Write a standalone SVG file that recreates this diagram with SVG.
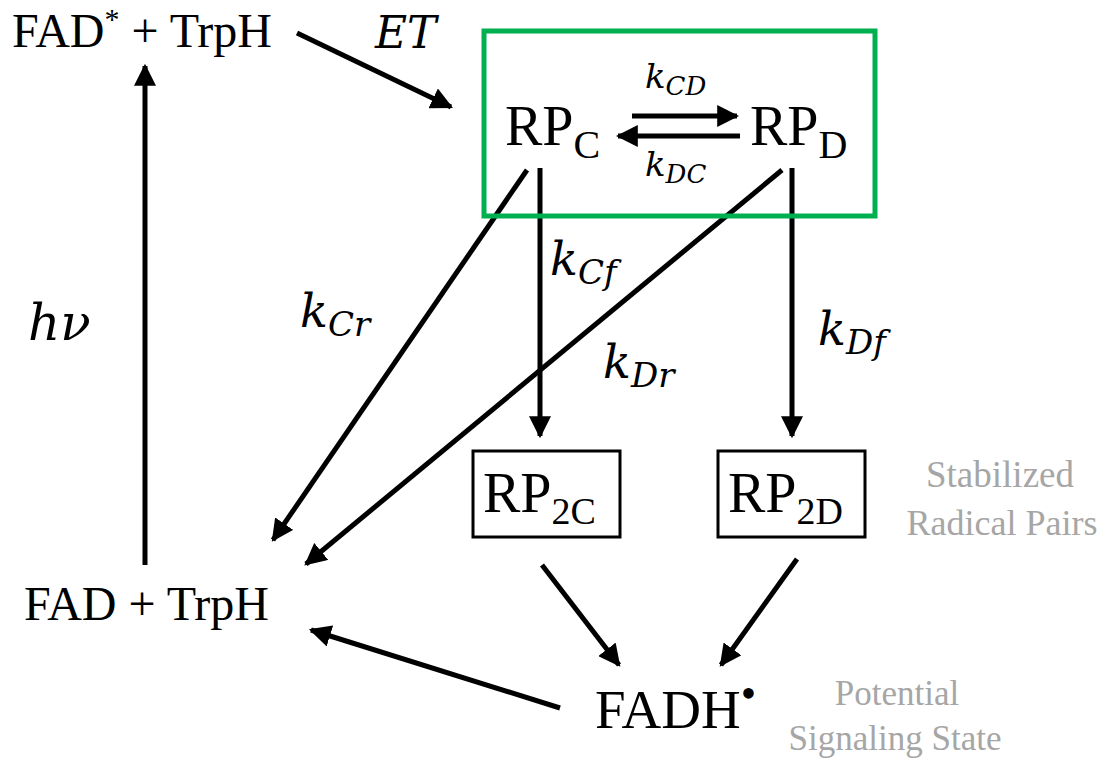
<svg xmlns="http://www.w3.org/2000/svg" width="1104" height="761" viewBox="0 0 1104 761">
<defs>
<marker id="ah" viewBox="0 0 10 10" refX="9" refY="5" markerWidth="4.4" markerHeight="4.4" orient="auto" markerUnits="strokeWidth">
<path d="M0,0 L10,5 L0,10 Z" fill="#000"/>
</marker>
<style>
.t{font-family:"Liberation Serif","Times New Roman",serif;fill:#000}
.m{font-family:"DejaVu Serif","Liberation Serif",serif;font-style:italic;fill:#000}
.g{font-family:"Liberation Serif","Times New Roman",serif;fill:#a6a6a6}
.c{stroke:#000;stroke-width:5;fill:none;marker-end:url(#ah)}
.box{fill:none;stroke:#000;stroke-width:3}
</style>
</defs>
<rect width="1104" height="761" fill="#fff"/>
<g id="connectors">
<line class="c" x1="297" y1="33" x2="451" y2="107"/>
<line class="c" x1="145" y1="565" x2="145" y2="66"/>
<line class="c" x1="632" y1="116" x2="737" y2="116"/>
<line class="c" x1="740" y1="136" x2="618" y2="136"/>
<line class="c" x1="540" y1="168" x2="540" y2="436"/>
<line class="c" x1="527" y1="170" x2="273" y2="540"/>
<line class="c" x1="792" y1="168" x2="792" y2="436"/>
<line class="c" x1="782" y1="170" x2="306" y2="564"/>
<line class="c" x1="542" y1="565" x2="619" y2="665"/>
<line class="c" x1="797" y1="559" x2="721" y2="665"/>
<line class="c" x1="560" y1="708" x2="311" y2="630"/>
</g>
<g id="fadstar">
<text class="t" x="12" y="47" font-size="48">FAD<tspan font-size="30" dy="-18">*</tspan><tspan dy="18"> + TrpH</tspan></text>
</g>
<g id="et"><text class="m" x="375" y="48" font-size="44">ET</text></g>
<g id="hv"><text class="m" x="28" y="340" font-size="50">hν</text></g>
<g id="box-c">
<rect x="484" y="31" width="391" height="185" fill="none" stroke="#00b050" stroke-width="5"/>
</g>
<g id="rpc"><text class="t" x="505" y="145" font-size="56">RP<tspan font-size="40" dy="13">C</tspan></text></g>
<g id="rpd"><text class="t" x="750" y="145" font-size="56">RP<tspan font-size="40" dy="13">D</tspan></text></g>
<g id="labels">
<text class="m" x="645" y="88" font-size="34">k<tspan font-size="26" dy="7">CD</tspan></text>
<text class="m" x="645" y="176" font-size="34">k<tspan font-size="26" dy="7">DC</tspan></text>
<text class="m" x="550" y="275" font-size="46">k<tspan font-size="34" dy="9">Cf</tspan></text>
<text class="m" x="300" y="327" font-size="46">k<tspan font-size="34" dy="9">Cr</tspan></text>
<text class="m" x="603" y="378" font-size="46">k<tspan font-size="34" dy="9">Dr</tspan></text>
<text class="m" x="818" y="345" font-size="46">k<tspan font-size="34" dy="9">Df</tspan></text>
</g>
<g id="rp2c"><rect class="box" x="473" y="451" width="147" height="86"/><text class="t" x="483" y="512" font-size="56">RP<tspan font-size="38" dy="12">2C</tspan></text></g>
<g id="rp2d"><rect class="box" x="718" y="451" width="147" height="86"/><text class="t" x="728" y="512" font-size="56">RP<tspan font-size="38" dy="12">2D</tspan></text></g>
<g id="stab"><text class="g" x="1000" y="487" text-anchor="middle" font-size="37">Stabilized</text><text class="g" x="1002" y="535" text-anchor="middle" font-size="36">Radical Pairs</text></g>
<g id="fad"><text class="t" x="24" y="620" font-size="48">FAD + TrpH</text></g>
<g id="fadh"><text class="t" x="595" y="728" font-size="55">FADH<tspan font-size="44" dy="-20">•</tspan></text></g>
<g id="pot"><text class="g" x="897" y="705" text-anchor="middle" font-size="35">Potential</text><text class="g" x="895" y="750" text-anchor="middle" font-size="35">Signaling State</text></g>
</svg>
